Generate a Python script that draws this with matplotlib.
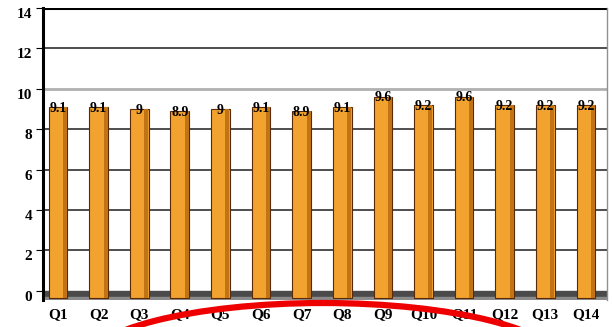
import matplotlib.pyplot as plt
import matplotlib.transforms as mtransforms
from matplotlib.patches import Ellipse
import numpy as np

# data
questions = ['Q1', 'Q2', 'Q3', 'Q4', 'Q5', 'Q6', 'Q7', 'Q8', 'Q9', 'Q10', 'Q11', 'Q12', 'Q13', 'Q14']
scores = [9.1, 9.1, 9, 8.9, 9, 9.1, 8.9, 9.1, 9.6, 9.2, 9.6, 9.2, 9.2, 9.2]
score_labels = ['9.1', '9.1', '9', '8.9', '9', '9.1', '8.9', '9.1', '9.6', '9.2', '9.6', '9.2', '9.2', '9.2']
y_ticks = [0, 2, 4, 6, 8, 10, 12, 14]

plt.rcParams['font.family'] = ['Liberation Serif', 'DejaVu Serif']

fig = plt.figure(figsize=(6.12, 3.27), dpi=100)
ax = fig.add_axes((43 / 612, 1 - 300 / 327, 564 / 612, 292 / 327))

x = np.arange(len(questions))
ax.set_xlim(-0.37, 13.52)
ax.set_ylim(-0.45, 14)

# back wall gridlines
for v in y_ticks[1:]:
    if v == 10:
        ax.axhline(v, color='#b0b0b0', lw=2, zorder=1)
    elif v == 14:
        ax.axhline(v, color='black', lw=2.2, zorder=1)
    else:
        ax.axhline(v, color='#303030', lw=1.2, zorder=1)

# floor
ax.axhspan(-0.45, 0, color='#4a4a4a', zorder=1)
ax.axhspan(-0.45, -0.3, color='#8a8a8a', zorder=1)

# bars, with a darker right side for the 3d look
ax.bar(x, np.array(scores) + 0.35, bottom=-0.35, width=0.46,
       color='#f2a22e', edgecolor='#5a2a08', lw=0.8, zorder=3)
ax.bar(x + 0.17, np.array(scores) + 0.35, bottom=-0.35, width=0.1,
       color='#c27414', lw=0, zorder=3)

for xi, s, lab in zip(x, scores, score_labels):
    ax.text(xi, s - 0.05, lab, ha='center', va='center', fontsize=10,
            fontweight='bold', color='black', zorder=4)

ax.spines[['top', 'bottom']].set_visible(False)
ax.spines['left'].set_linewidth(2.2)
ax.spines['right'].set_color('#909090')
ax.spines['right'].set_linewidth(1)

ax.set_yticks(y_ticks)
ax.set_yticklabels([str(v) for v in y_ticks], fontsize=11, fontweight='bold')
ax.tick_params(axis='y', length=5, width=0.8, pad=3)
shift = mtransforms.ScaledTranslation(0, -5 / 100, fig.dpi_scale_trans)
for lbl in ax.get_yticklabels():
    lbl.set_transform(lbl.get_transform() + shift)

ax.set_xticks(x)
ax.set_xticklabels(questions, fontsize=11, fontweight='bold')
ax.tick_params(axis='x', length=0, pad=6)

# red circle drawn over the bottom of the chart
fig.add_artist(Ellipse((323 / 612, -37 / 327), 476 / 612, 122 / 327,
                       transform=fig.transFigure, fill=False,
                       edgecolor='#ee0000', lw=4.5, zorder=10))

fig.savefig('out.png', dpi=100)
